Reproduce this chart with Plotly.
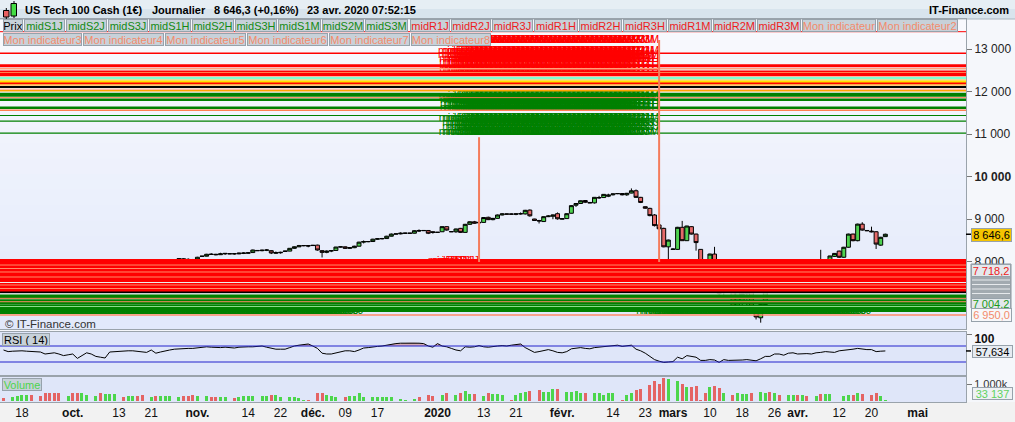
import numpy as np
import pandas as pd
import plotly.graph_objects as go

W, H = 1015, 422
FONT = "Liberation Sans, Arial, Helvetica, sans-serif"

# ------------------------------------------------------------------
# DATA (one slot per session day, Saturdays excluded)
# ------------------------------------------------------------------
first_date = "2019-09-13"

opens = [7920, 7880, 7870, 7880, 7905, 7915, 7920,
         7805, 7810, 7810, 7790, 7775, 7750,
         7665, 7670, 7760, 7650, 7560, 7640,
         7755, 7700, 7720, 7610, 7690, 7760,
         7830, 7840, 7830, 7905, 7950, 7915,
         7865, 7870, 7945, 7865, 7905, 7960,
         8035, 8045, 8070, 8055, 8050, 8040,
         8125, 8130, 8180, 8175, 8165, 8185,
         8190, 8190, 8185, 8195, 8200, 8215,
         8265, 8260, 8270, 8260, 8200, 8210,
         8240, 8250, 8315, 8350, 8375, 8380,
         8380, 8390, 8260, 8220, 8250, 8265,
         8345, 8350, 8315, 8330, 8365, 8460,
         8470, 8475, 8530, 8540, 8545, 8600,
         8650, 8655, 8670, 8672, 8670, 8735,
         8730, 8735, 8705, 8690, 8705, 8825,
         8710, 8705, 8785, 8690, 8880, 8940,
         8915, 8925, 9045, 8990, 9020, 9100,
         9125, 9125, 9118, 9125, 9125, 9215,
         9005, 8970, 8945, 9060, 9070, 9130,
         9000, 9015, 9140, 9330, 9370, 9440,
         9395, 9385, 9500, 9510, 9540, 9575,
         9600, 9605, 9575, 9615, 9670, 9515,
         9295, 9255, 9100, 8865, 8785, 8350,
         8300, 8290, 8810, 8495, 8825, 8650,
         8290, 8050, 7940, 8180, 7700, 7300,
         7600, 7400, 6920, 7050, 7250, 7300,
         6790, 6680, 6990, 7490, 7450, 7790,
         7520, 7460, 7810, 7790, 7490, 7650,
         7620, 7690, 8030, 7990, 8045, 8125,
         8250, 8105, 8340, 8650, 8495, 8885,
         8735, 8720, 8705, 8390, 8590]

highs = [7935, 7890, 7895, 7915, 7925, 7960, 7930,
         7815, 7830, 7850, 7800, 7790, 7770,
         7675, 7760, 7800, 7660, 7650, 7770,
         7765, 7790, 7740, 7700, 7770, 7900,
         7840, 7860, 7950, 7950, 7970, 7940,
         7875, 7945, 7960, 7905, 7975, 8040,
         8050, 8085, 8085, 8080, 8065, 8115,
         8135, 8185, 8200, 8185, 8210, 8200,
         8195, 8200, 8215, 8220, 8225, 8285,
         8275, 8285, 8295, 8270, 8240, 8235,
         8255, 8320, 8360, 8395, 8385, 8390,
         8395, 8400, 8275, 8265, 8270, 8350,
         8355, 8360, 8345, 8375, 8470, 8500,
         8480, 8540, 8550, 8560, 8610, 8665,
         8660, 8690, 8680, 8676, 8740, 8760,
         8740, 8740, 8715, 8695, 8830, 8835,
         8720, 8780, 8795, 8890, 8950, 8960,
         8930, 9045, 9060, 9030, 9110, 9140,
         9130, 9135, 9140, 9160, 9220, 9230,
         9010, 8985, 9065, 9095, 9110, 9160,
         9020, 9140, 9330, 9380, 9440, 9450,
         9400, 9520, 9550, 9590, 9600, 9605,
         9610, 9615, 9620, 9725, 9700, 9525,
         9300, 9270, 9120, 8990, 8800, 8520,
         8320, 8820, 8960, 8845, 8835, 8660,
         8295, 8060, 8190, 8350, 7750, 7850,
         7620, 7500, 7450, 7300, 7400, 7500,
         6800, 7050, 7520, 7700, 7850, 7800,
         7540, 7820, 7900, 7800, 7680, 7680,
         7700, 8060, 8280, 8060, 8140, 8205,
         8260, 8350, 8660, 8660, 8895, 8930,
         8745, 8825, 8720, 8585, 8660]

lows = [7890, 7870, 7850, 7865, 7850, 7905, 7800,
        7795, 7770, 7660, 7650, 7700, 7610,
        7655, 7665, 7650, 7540, 7490, 7630,
        7745, 7690, 7600, 7600, 7660, 7750,
        7820, 7815, 7820, 7900, 7900, 7840,
        7855, 7865, 7860, 7840, 7890, 7940,
        8030, 8030, 8040, 8010, 8000, 8035,
        8120, 8125, 8165, 8150, 8160, 8160,
        8180, 8165, 8175, 8180, 8190, 8210,
        8255, 8245, 8250, 8180, 8185, 8190,
        8235, 8245, 8305, 8345, 8365, 8340,
        8370, 8260, 8100, 8200, 8225, 8260,
        8335, 8300, 8300, 8320, 8360, 8430,
        8460, 8470, 8520, 8525, 8540, 8595,
        8645, 8645, 8655, 8668, 8665, 8700,
        8725, 8650, 8660, 8685, 8700, 8730,
        8700, 8680, 8675, 8680, 8870, 8895,
        8905, 8920, 8980, 8975, 9015, 9090,
        9115, 9110, 9095, 9110, 9110, 9060,
        8960, 8900, 8935, 9050, 9000, 8990,
        8995, 9010, 9135, 9290, 9360, 9380,
        9380, 9370, 9480, 9505, 9520, 9560,
        9590, 9560, 9550, 9610, 9500, 9380,
        9250, 9070, 8830, 8760, 8340, 8030,
        8280, 8280, 8490, 8490, 8640, 8260,
        7980, 7880, 7800, 7900, 7200, 7150,
        7350, 6900, 6880, 6950, 6950, 6880,
        6640, 6565, 6980, 7350, 7400, 7500,
        7440, 7440, 7740, 7460, 7450, 7480,
        7600, 7680, 7960, 7970, 8030, 8110,
        8090, 8090, 8330, 8480, 8480, 8730,
        8720, 8690, 8300, 8375, 8585]

closes = [7905, 7885, 7880, 7908, 7915, 7920, 7810,
          7800, 7800, 7680, 7770, 7740, 7660,
          7670, 7750, 7660, 7560, 7640, 7760,
          7750, 7725, 7605, 7690, 7750, 7850,
          7835, 7830, 7940, 7915, 7915, 7860,
          7870, 7940, 7870, 7900, 7960, 8030,
          8045, 8070, 8050, 8045, 8040, 8105,
          8130, 8175, 8170, 8165, 8185, 8195,
          8185, 8185, 8200, 8205, 8210, 8275,
          8260, 8270, 8275, 8205, 8212, 8220,
          8250, 8315, 8350, 8375, 8380, 8370,
          8385, 8275, 8220, 8250, 8262, 8345,
          8350, 8315, 8330, 8365, 8460, 8475,
          8475, 8530, 8540, 8545, 8600, 8650,
          8655, 8670, 8672, 8670, 8730, 8725,
          8735, 8670, 8690, 8692, 8825, 8745,
          8705, 8770, 8690, 8880, 8940, 8905,
          8925, 9040, 8990, 9020, 9100, 9125,
          9120, 9118, 9125, 9130, 9210, 9080,
          8970, 8960, 9060, 9075, 9100, 9010,
          9015, 9130, 9320, 9370, 9435, 9400,
          9385, 9515, 9510, 9585, 9570, 9595,
          9605, 9575, 9610, 9670, 9515, 9395,
          9260, 9085, 8850, 8775, 8350, 8510,
          8290, 8810, 8495, 8840, 8650, 8450,
          8000, 7940, 8180, 7960, 7250, 7830,
          7400, 6920, 7420, 7250, 7300, 6900,
          6700, 6990, 7490, 7450, 7800, 7510,
          7460, 7810, 7815, 7490, 7650, 7530,
          7690, 8020, 8000, 8045, 8135, 8195,
          8105, 8340, 8650, 8495, 8885, 8745,
          8730, 8705, 8415, 8575, 8646.6]

volumes_k = [190, 0, 250, 310, 350, 350, 350,
             0, 310, 480, 460, 460, 480,
             0, 310, 460, 500, 480, 350,
             0, 310, 460, 420, 420, 420,
             0, 250, 290, 290, 310, 350,
             0, 250, 310, 290, 290, 290,
             0, 250, 290, 310, 350, 290,
             0, 290, 250, 250, 250, 210,
             0, 190, 250, 290, 290, 290,
             0, 290, 310, 370, 350, 250,
             0, 210, 210, 190, 80, 80,
             0, 480, 480, 330, 290, 250,
             0, 250, 310, 290, 480, 250,
             0, 210, 210, 210, 210, 210,
             0, 145, 80, 0, 145, 210,
             0, 350, 290, 0, 350, 460,
             0, 350, 500, 620, 390, 390,
             0, 290, 460, 420, 420, 350,
             0, 80, 350, 460, 560, 620,
             0, 670, 520, 560, 730, 730,
             0, 520, 520, 600, 500, 500,
             0, 460, 460, 350, 460, 460,
             0, 80, 350, 460, 670, 730,
             0, 970, 1180, 1040, 1350, 1290,
             0, 1180, 1040, 810, 810, 920,
             80, 460, 810, 870, 770, 500,
             0, 350, 460, 420, 420, 460,
             0, 520, 460, 520, 460, 350,
             0, 350, 350, 350, 350, 290,
             0, 290, 420, 420, 420, 0,
             0, 290, 350, 350, 500, 420,
             0, 350, 500, 290, 33]

rsi_values = [60, 56, 57, 58, 58, 57, 56, 56, 55, 50,
              52, 53, 50, 46, 48, 50, 39, 46, 53, 50,
              44, 42, 40, 55, 56, 56, 58, 58, 58, 57,
              56, 54, 60, 52, 55, 58, 60, 62, 63, 63,
              64, 64, 65, 66, 68, 67, 66, 66, 67, 66,
              65, 67, 68, 68, 68, 69, 70, 67, 64, 62,
              62, 62, 66, 70, 72, 74, 75, 70, 64, 52,
              50, 50, 53, 56, 58, 58, 56, 60, 65, 66,
              68, 69, 70, 72, 75, 76, 77, 77, 78, 78,
              77, 76, 70, 67, 76, 70, 68, 64, 60, 58,
              68, 67, 68, 71, 68, 67, 69, 70, 71, 70,
              72, 74, 75, 66, 61, 54, 56, 58, 61, 58,
              54, 53, 56, 63, 65, 66, 64, 63, 66, 67,
              68, 69, 70, 72, 69, 70, 72, 62, 58, 52,
              44, 36, 32, 29, 30, 31, 42, 38, 46, 44,
              42, 34, 34, 36, 35, 29, 36, 34, 34, 34,
              35, 36, 34, 33, 38, 44, 44, 50, 50, 47,
              52, 53, 50, 51, 51, 50, 53, 54, 56, 55,
              54, 58, 59, 60, 62, 64, 62, 61, 61, 56,
              57, 57.634]

tick_dates = ["2019-09-18", "2019-10-01", "2019-10-13", "2019-10-21", "2019-11-01",
              "2019-11-14", "2019-11-22", "2019-12-01", "2019-12-09", "2019-12-17",
              "2020-01-01", "2020-01-13", "2020-01-21", "2020-02-02", "2020-02-14",
              "2020-02-23", "2020-03-01", "2020-03-10", "2020-03-18", "2020-03-26",
              "2020-04-01", "2020-04-12", "2020-04-20", "2020-05-01"]
tick_labels = ["18", "<b>oct.</b>", "13", "21", "<b>nov.</b>", "14", "22", "<b>déc.</b>", "09", "17",
               "<b>2020</b>", "13", "21", "<b>févr.</b>", "14", "23", "<b>mars</b>", "10", "18", "26",
               "<b>avr.</b>", "12", "20", "<b>mai</b>"]

price_ticks = [8000, 9000, 10000, 11000, 12000, 13000]
price_tick_labels = ["8 000", "9 000", "<b>10 000</b>", "11 000", "12 000", "13 000"]

# indicator levels drawn across the chart: (price, colour, width)
upper_levels = [
    (13414, "#ff0000", 1), (12906, "#ff0000", 1.5), (12611, "#ff0000", 3),
    (12543, "#ffa07a", 1.5), (12477, "#ff0000", 2), (12449, "#ff7f50", 1.2),
    (12418, "#ff0000", 2), (12383, "#ff0000", 1.5), (12353, "#ffb4a0", 1.5),
    (12317, "#7fffd4", 2.5), (12277, "#ffd080", 1.5), (12237, "#ffe000", 2.5),
    (12200, "#ff0000", 1.5), (12164, "#ff8c00", 1.2), (12112, "#000000", 2),
    (12061, "#ffa07a", 1), (12023, "#ffa500", 1.5), (11931, "#008000", 4),
    (11861, "#ff7f50", 1), (11811, "#008000", 2.5), (11623, "#008000", 2.5),
    (11564, "#ff7f50", 1.5), (11442, "#008000", 1.2), (11307, "#008000", 1.2),
    (11025, "#008000", 1.2),
]
lower_levels = [
    (7993, "#ff0000", 6), (7852, "#ff0000", 6), (7710, "#ff0000", 6), (7581, "#ff0000", 6),
    (7922, "#ff8c69", 1), (7840, "#ff8c69", 1), (7758, "#ff8c69", 1), (7640, "#ff8c69", 1),
    (7510, "#e8ecec", 1.2), (7440, "#ff0000", 5), (7346, "#ff0000", 5),
    (7452, "#ff8c69", 1), (7369, "#ff8c69", 1), (7275, "#000000", 2), (7240, "#f0f0f0", 1.5),
    (7169, "#008000", 5), (7051, "#008000", 5), (6934, "#008000", 5), (6851, "#008000", 3),
    (7138, "#ff8c69", 1), (7058, "#ff8c69", 1), (6945, "#8fe08f", 1), (6745, "#ff8c69", 1.5),
]

# indicator name labels repeated on every bar: (text, price, colour, first date, last date)
label_rows = [
    ("midR3M", 13219, "#ff0000", "2020-01-12", "2020-02-26"),
    ("midR2M", 12960, "#ff0000", "2020-01-12", "2020-02-26"),
    ("midR1M", 12865, "#ff0000", "2020-01-12", "2020-02-26"),
    ("midR3H", 12770, "#ff0000", "2020-01-12", "2020-02-26"),
    ("midR2H", 12700, "#ff0000", "2020-01-12", "2020-02-26"),
    ("midR1H", 12513, "#ff0000", "2020-01-12", "2020-02-26"),
    ("midS1M", 11889, "#008000", "2020-01-12", "2020-02-26"),
    ("midS1H", 11800, "#008000", "2020-01-12", "2020-02-26"),
    ("midS2H", 11710, "#008000", "2020-01-12", "2020-02-26"),
    ("midS3H", 11618, "#008000", "2020-01-12", "2020-02-26"),
    ("midS2M", 11380, "#008000", "2020-01-12", "2020-02-26"),
    ("midS3J", 11270, "#008000", "2020-01-12", "2020-02-26"),
    ("midS2J", 11160, "#008000", "2020-01-12", "2020-02-26"),
    ("midS3M", 11055, "#008000", "2020-01-12", "2020-02-26"),
    ("midR1J", 8012, "#ff0000", "2020-01-08", "2020-01-12"),
    ("midS3J", 6823, "#008000", "2019-09-13", "2019-12-13"),
    ("midS3J", 6823, "#008000", "2020-03-01", "2020-04-20"),
]

# vertical steps of the indicator: (date, from price, to price)
connectors = [("2020-01-12", 10930, 7993), ("2020-02-26", 13219, 7993)]

legend_row1 = [("Prix", 3, 23, "#000000"),
               ("midS1J", 24, 65, "#138a13"), ("midS2J", 66, 107, "#138a13"), ("midS3J", 108, 148, "#138a13"),
               ("midS1H", 149, 191, "#138a13"), ("midS2H", 192, 234, "#138a13"), ("midS3H", 235, 277, "#138a13"),
               ("midS1M", 278, 321, "#138a13"), ("midS2M", 322, 364, "#138a13"), ("midS3M", 365, 408, "#138a13"),
               ("midR1J", 410, 450, "#ee1c1c"), ("midR2J", 451, 491, "#ee1c1c"), ("midR3J", 492, 533, "#ee1c1c"),
               ("midR1H", 534, 578, "#ee1c1c"), ("midR2H", 579, 622, "#ee1c1c"), ("midR3H", 623, 667, "#ee1c1c"),
               ("midR1M", 668, 712, "#ee1c1c"), ("midR2M", 713, 756, "#ee1c1c"), ("midR3M", 757, 801, "#ee1c1c"),
               ("Mon indicateur", 802, 876, "#f38b6b"), ("Mon indicateur2", 877, 958, "#f38b6b")]
legend_row2 = [("Mon indicateur3", 3, 82, "#f38b6b"), ("Mon indicateur4", 83, 164, "#f38b6b"),
               ("Mon indicateur5", 165, 246, "#f38b6b"), ("Mon indicateur6", 247, 328, "#f38b6b"),
               ("Mon indicateur7", 329, 410, "#f38b6b"), ("Mon indicateur8", 411, 491, "#f38b6b")]

n = len(closes)
assert len(opens) == n and len(highs) == n and len(lows) == n
assert len(volumes_k) == n and len(rsi_values) == n, (len(volumes_k), len(rsi_values))

# ------------------------------------------------------------------
# session calendar -> slot index
# ------------------------------------------------------------------
days = [d for d in pd.date_range(first_date, "2020-05-31", freq="D") if d.dayofweek != 5]
slot_of = {d.strftime("%Y-%m-%d"): i for i, d in enumerate(days)}
xs = np.arange(n)

# ------------------------------------------------------------------
# geometry (pixels)
# ------------------------------------------------------------------
PLOT_R = 966
PRICE_TOP, PRICE_BOT = 19, 329
RSI_TOP, RSI_BOT = 332, 375
VOL_TOP, VOL_BOT = 377, 402
SLOT_PX, SLOT0_PX = 4.617, 3.5
x_range = [(0 - SLOT0_PX) / SLOT_PX, (PLOT_R - SLOT0_PX) / SLOT_PX]


def fy(p):
    return 1 - p / H


def fx(p):
    return p / W


fig = go.Figure()

# candles
fig.add_trace(go.Candlestick(
    x=xs, open=opens, high=highs, low=lows, close=closes,
    increasing=dict(line=dict(color="#000000", width=1), fillcolor="#4fd24f"),
    decreasing=dict(line=dict(color="#000000", width=1), fillcolor="#e56a6a"),
    whiskerwidth=0, hoverinfo="skip", showlegend=False, xaxis="x", yaxis="y"))

# repeated indicator labels
for text, price, color, d0, d1 in label_rows:
    sx = list(range(slot_of[d0], slot_of[d1] + 1))
    fig.add_trace(go.Scatter(
        x=sx, y=[price] * len(sx), mode="text", text=[text] * len(sx),
        textposition="middle left", textfont=dict(family=FONT, size=11, color=color),
        hoverinfo="skip", showlegend=False, xaxis="x", yaxis="y"))

# RSI
rsi_arr = np.array(rsi_values, dtype=float)
fig.add_trace(go.Scatter(x=xs, y=[70] * n, mode="lines", line=dict(width=0),
                         hoverinfo="skip", showlegend=False, xaxis="x2", yaxis="y2"))
fig.add_trace(go.Scatter(x=xs, y=np.maximum(rsi_arr, 70), mode="lines", line=dict(width=0),
                         fill="tonexty", fillcolor="rgba(200,120,120,0.55)",
                         hoverinfo="skip", showlegend=False, xaxis="x2", yaxis="y2"))
fig.add_trace(go.Scatter(x=xs, y=rsi_arr, mode="lines", line=dict(color="#000000", width=1),
                         hoverinfo="skip", showlegend=False, xaxis="x2", yaxis="y2"))

# volume
vol_colors = ["#4cd64c" if c >= o else "#e46464" for o, c in zip(opens, closes)]
fig.add_trace(go.Bar(x=xs, y=volumes_k, marker=dict(color=vol_colors, line=dict(width=0)),
                     width=0.65, hoverinfo="skip", showlegend=False, xaxis="x3", yaxis="y3"))

shapes = []
# backgrounds
top_c = np.array([249, 250, 254])
bot_c = np.array([226, 233, 251])
nstrip = 20
for i in range(nstrip):
    y0 = PRICE_TOP + (PRICE_BOT - PRICE_TOP) * i / nstrip
    y1 = PRICE_TOP + (PRICE_BOT - PRICE_TOP) * (i + 1) / nstrip + 0.5
    c = top_c + (bot_c - top_c) * (i + 0.5) / nstrip
    shapes.append(dict(type="rect", xref="paper", yref="paper", x0=0, x1=fx(PLOT_R),
                       y0=fy(y1), y1=fy(y0), fillcolor="rgb(%d,%d,%d)" % tuple(c.astype(int)),
                       line=dict(width=0), layer="below"))
for t, b in [(RSI_TOP, RSI_BOT), (VOL_TOP, VOL_BOT)]:
    shapes.append(dict(type="rect", xref="paper", yref="paper", x0=0, x1=fx(PLOT_R),
                       y0=fy(b), y1=fy(t), fillcolor="#dfe6f9", line=dict(width=0), layer="below"))
# bottom axis strip
shapes.append(dict(type="rect", xref="paper", yref="paper", x0=0, x1=1, y0=0, y1=fy(VOL_BOT),
                   fillcolor="#f2f2f2", line=dict(width=0), layer="below"))
# title bar
shapes.append(dict(type="rect", xref="paper", yref="paper", x0=0, x1=1, y0=fy(9), y1=1,
                   fillcolor="#e6eef4", line=dict(width=0), layer="below"))
shapes.append(dict(type="rect", xref="paper", yref="paper", x0=0, x1=1, y0=fy(19), y1=fy(9),
                   fillcolor="#d8e4ed", line=dict(width=0), layer="below"))
shapes.append(dict(type="line", xref="paper", yref="paper", x0=0, x1=1, y0=fy(19), y1=fy(19),
                   line=dict(color="#aab6c0", width=1), layer="below"))
# title icon
shapes += [
    dict(type="line", xref="paper", yref="paper", x0=fx(6.3), x1=fx(6.3), y0=fy(19), y1=fy(8),
         line=dict(color="#000", width=1)),
    dict(type="rect", xref="paper", yref="paper", x0=fx(3.5), x1=fx(9), y0=fy(17), y1=fy(10.5),
         fillcolor="#e86060", line=dict(color="#000", width=1)),
    dict(type="line", xref="paper", yref="paper", x0=fx(14), x1=fx(14), y0=fy(18), y1=fy(1),
         line=dict(color="#000", width=1)),
    dict(type="rect", xref="paper", yref="paper", x0=fx(11), x1=fx(16.5), y0=fy(16), y1=fy(3.5),
         fillcolor="#44dd44", line=dict(color="#000", width=1)),
]

# indicator level lines (above the candles)
for price, color, width in upper_levels + lower_levels:
    shapes.append(dict(type="line", xref="x domain", yref="y", x0=0, x1=1, y0=price, y1=price,
                       line=dict(color=color, width=width), layer="above"))
for d, p0, p1 in connectors:
    s = slot_of[d]
    shapes.append(dict(type="line", xref="x", yref="y", x0=s, x1=s, y0=p0, y1=p1,
                       line=dict(color="#f47c5c", width=2), layer="above"))
# RSI bounds
for lvl in (70, 30):
    shapes.append(dict(type="line", xref="x2 domain", yref="y2", x0=0, x1=1, y0=lvl, y1=lvl,
                       line=dict(color="#2222cc", width=1), layer="above"))

# last-value tick marks on the right axes
shapes.append(dict(type="line", xref="paper", yref="y", x0=fx(PLOT_R), x1=fx(PLOT_R + 5),
                   y0=closes[-1], y1=closes[-1], line=dict(color="#000", width=1.5)))
shapes.append(dict(type="line", xref="paper", yref="y2", x0=fx(PLOT_R), x1=fx(PLOT_R + 5),
                   y0=rsi_values[-1], y1=rsi_values[-1], line=dict(color="#000", width=1.5)))

# right side value boxes (decor)
shapes.append(dict(type="rect", xref="paper", yref="paper", x0=fx(971), x1=fx(1011),
                   y0=fy(308), y1=fy(264), fillcolor="#a2aab0", line=dict(color="#8a949c", width=1)))
for yy in (280, 284.5, 289, 293.5):
    shapes.append(dict(type="line", xref="paper", yref="paper", x0=fx(972), x1=fx(1010),
                       y0=fy(yy), y1=fy(yy), line=dict(color="#e6e9ec", width=1)))

annotations = []


def label(text, x, y, color="#000", size=11, anchor="left", bold=False, **kw):
    if bold:
        text = "<b>%s</b>" % text
    annotations.append(dict(xref="paper", yref="paper", x=fx(x), y=fy(y), xanchor=anchor,
                            yanchor="middle", text=text, showarrow=False,
                            font=dict(family=FONT, size=size, color=color), **kw))


def button(text, x0, x1, yc, color, h=11, bg="#c7d1d9"):
    annotations.append(dict(xref="paper", yref="paper", x=fx(x0), y=fy(yc), xanchor="left",
                            yanchor="middle", text=text, showarrow=False,
                            font=dict(family=FONT, size=11, color=color),
                            bgcolor=bg, bordercolor="#97a2ab", borderwidth=1, borderpad=0,
                            width=x1 - x0 - 2, height=h, align="center"))


# title bar texts
label("US Tech 100 Cash (1€)", 23, 10, bold=True)
label("Journalier", 150, 10, bold=True)
label("8 646,3 (+0,16%)", 212, 10, bold=True)
label("23 avr. 2020 07:52:15", 305, 10, bold=True)
label("IT-Finance.com", 1011, 10, bold=True, anchor="right")

for t, a, b, c in legend_row1:
    button(t, a, b, 26, c)
for t, a, b, c in legend_row2:
    button(t, a, b, 39.5, c)

label("© IT-Finance.com", 3, 323.5, color="#333333", size=11.5)
button("RSI ( 14)", 2, 50, 339, "#000000", h=11)
button("Volume", 2, 42, 384, "#4dd44d", h=11)

# right side value labels
button("8 646,6", 971, 1012, 235, "#000000", h=12, bg="#f5c400")
button("7 718,2", 971, 1011, 270, "#ee2020", h=11, bg="#e4e8ec")
button("7 004,2", 971, 1011, 303, "#1a9a1a", h=9, bg="#e4e8ec")
button("6 950,0", 971, 1012, 315, "#f38b6b", h=12, bg="#f7f8fa")
button("57,634", 972, 1013, 351.5, "#000000", h=11, bg="#e6ebf1")
button("33 137", 972, 1013, 393, "#5fd35f", h=11, bg="#eef1f4")

axis_line = dict(showline=True, linecolor="#9aa3ab", linewidth=1, mirror=True,
                 showgrid=False, zeroline=False)
xcommon = dict(range=x_range, domain=[0, fx(PLOT_R)], **axis_line)

fig.update_layout(
    width=W, height=H,
    margin=dict(l=0, r=0, t=0, b=0, pad=0),
    paper_bgcolor="#f5f7fb", plot_bgcolor="rgba(0,0,0,0)",
    showlegend=False, boxgap=0.1, boxgroupgap=0.05, bargap=0,
    font=dict(family=FONT, size=11, color="#222"),
    xaxis=dict(anchor="y", showticklabels=False, ticks="", rangeslider=dict(visible=False), **xcommon),
    xaxis2=dict(anchor="y2", showticklabels=False, ticks="", **xcommon),
    xaxis3=dict(anchor="y3", tickmode="array", tickvals=[slot_of[d] for d in tick_dates],
                ticktext=tick_labels, ticks="", tickfont=dict(family=FONT, size=12, color="#111"),
                **xcommon),
    yaxis=dict(anchor="x", side="right", domain=[fy(PRICE_BOT), fy(PRICE_TOP)],
               range=[6416, 13713], tickmode="array", tickvals=price_ticks, ticktext=price_tick_labels,
               ticks="outside", ticklen=5, tickcolor="#777", automargin=False,
               tickfont=dict(family=FONT, size=12, color="#222"), **axis_line),
    yaxis2=dict(anchor="x2", side="right", domain=[fy(RSI_BOT), fy(RSI_TOP)], range=[-2.5, 105],
                tickmode="array", tickvals=[100], ticktext=["<b>100</b>"], ticks="outside", ticklen=5,
                tickcolor="#777", automargin=False, tickfont=dict(family=FONT, size=12, color="#111"),
                ticklabelshift=5, **axis_line),
    yaxis3=dict(anchor="x3", side="right", domain=[fy(VOL_BOT), fy(VOL_TOP)], range=[-60, 1437],
                tickmode="array", tickvals=[1000], ticktext=["1 000k"], ticks="outside", ticklen=5,
                tickcolor="#777", automargin=False, tickfont=dict(family=FONT, size=11, color="#333"),
                **axis_line),
    shapes=shapes, annotations=annotations,
)

fig.write_html("out.html", config={"displayModeBar": False, "staticPlot": True},
               post_script="document.body.style.margin='0px';document.body.style.overflow='hidden';")
